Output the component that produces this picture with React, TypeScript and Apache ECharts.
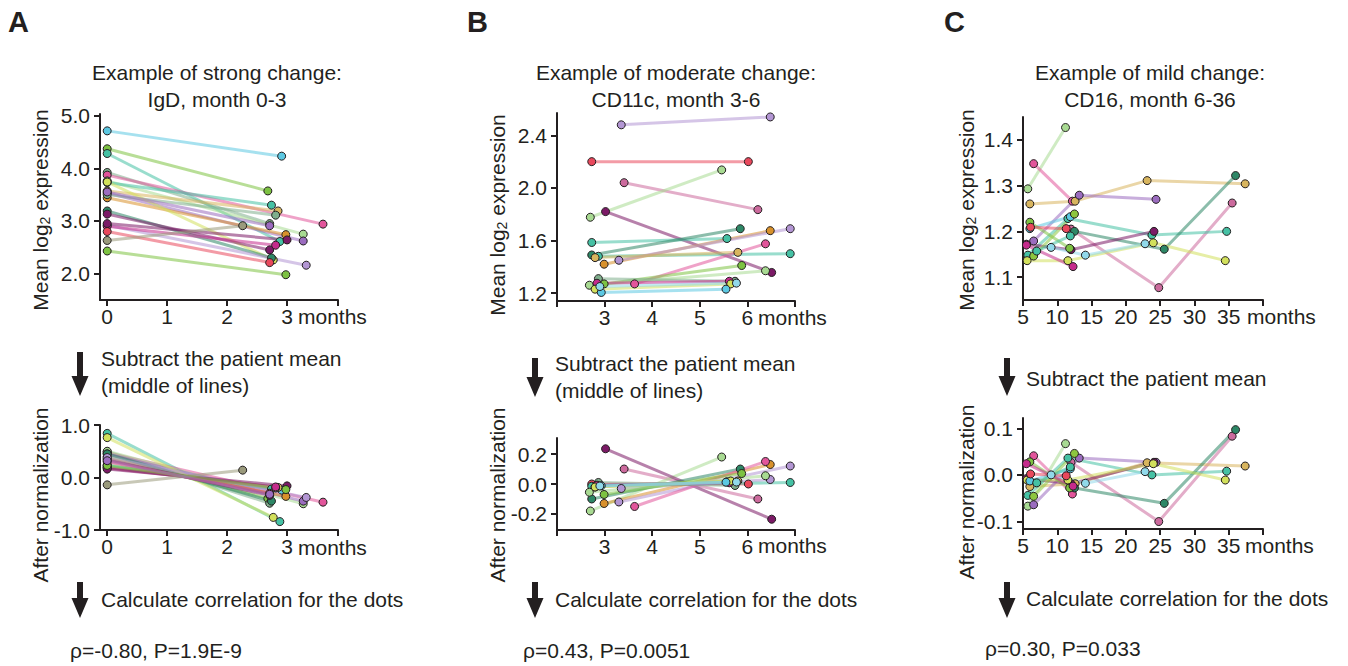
import React, { useEffect, useRef } from "react";
import * as echarts from "echarts";

// ---------- Panel A: IgD, month 0-3 ----------
const aMonthStart = [0, 0, 0, 0, 0, 0, 0, 0, 0, 0, 0, 0, 0, 0, 0, 0, 0, 0, 0, 0, 0];
const aMonthEnd = [2.91, 2.68, 2.88, 2.71, 3.6, 3.27, 2.74, 2.85, 3.27, 2.98, 2.81, 2.77, 2.74, 2.71, 3.32, 2.81, 3.0, 2.71, 2.26, 2.98, 2.71];
const aValueStart = [4.71, 4.37, 4.28, 3.92, 3.87, 3.76, 3.73, 3.57, 3.53, 3.44, 3.5, 3.74, 3.19, 3.13, 2.92, 2.9, 2.95, 2.8, 2.63, 2.43, 3.55];
const aValueEnd = [4.23, 3.57, 2.61, 2.95, 2.94, 2.75, 3.3, 3.19, 2.62, 2.74, 3.11, 2.26, 2.3, 2.45, 2.16, 2.54, 2.64, 2.21, 2.91, 1.98, 2.91];
const aNormStart = [0.24, 0.4, 0.84, 0.49, 0.47, 0.5, 0.22, 0.19, 0.45, 0.36, 0.2, 0.76, 0.45, 0.34, 0.38, 0.18, 0.16, 0.3, -0.14, 0.23, 0.32];
const aNormEnd = [-0.24, -0.4, -0.84, -0.49, -0.47, -0.5, -0.22, -0.19, -0.45, -0.36, -0.2, -0.76, -0.45, -0.34, -0.38, -0.18, -0.16, -0.3, 0.14, -0.23, -0.32];

// ---------- Panel B: CD11c, month 3-6 ----------
const bMonthStart = [3.35, 2.73, 3.41, 2.7, 3.02, 2.73, 2.73, 2.87, 2.99, 3.3, 2.8, 3.63, 2.99, 2.68, 2.87, 2.84, 2.8, 2.93, 2.9];
const bMonthEnd = [6.48, 6.02, 6.22, 5.46, 6.51, 5.57, 5.85, 6.9, 6.48, 6.9, 5.8, 6.38, 5.88, 6.38, 5.74, 5.62, 5.65, 5.55, 5.77];
const bValueStart = [2.48, 2.2, 2.04, 1.777, 1.82, 1.585, 1.49, 1.48, 1.42, 1.45, 1.47, 1.27, 1.27, 1.26, 1.31, 1.275, 1.23, 1.205, 1.25];
const bValueEnd = [2.54, 2.2, 1.835, 2.137, 1.357, 1.615, 1.69, 1.5, 1.675, 1.69, 1.51, 1.575, 1.41, 1.37, 1.29, 1.29, 1.27, 1.23, 1.276];
const bNormStart = [-0.03, 0.0, 0.1, -0.18, 0.235, -0.015, -0.1, -0.01, -0.13, -0.12, -0.02, -0.15, -0.07, -0.055, 0.01, -0.008, -0.02, -0.012, -0.013];
const bNormEnd = [0.03, 0.0, -0.1, 0.18, -0.235, 0.015, 0.1, 0.01, 0.13, 0.12, 0.02, 0.15, 0.07, 0.055, -0.01, 0.008, 0.02, 0.012, 0.013];

// ---------- Panel C: CD16, month 6-36 ----------
const cMonths = [
  [5.7, 11.2],
  [6.55, 12.2],
  [12.0, 24.8, 35.5],
  [6.0, 12.6, 23.1, 37.4],
  [6.55, 13.2, 24.4],
  [5.7, 11.55, 23.8, 34.7],
  [12.5, 25.6, 36.0],
  [5.5, 12.0, 24.1],
  [5.6, 11.55, 24.0, 34.5],
  [9.1, 14.1, 22.8],
  [6.0, 11.9],
  [6.0, 11.8],
  [6.55, 12.5],
  [5.5, 12.3],
  [6.1, 11.3],
  [7.0, 11.9],
];
const cValues = [
  [1.293, 1.427],
  [1.348, 1.266],
  [1.205, 1.077, 1.262],
  [1.26, 1.266, 1.311, 1.304],
  [1.179, 1.279, 1.27],
  [1.148, 1.228, 1.192, 1.2],
  [1.2, 1.161, 1.322],
  [1.172, 1.16, 1.2],
  [1.136, 1.136, 1.175, 1.136],
  [1.165, 1.148, 1.173],
  [1.206, 1.232],
  [1.22, 1.163],
  [1.146, 1.238],
  [1.17, 1.123],
  [1.209, 1.206],
  [1.157, 1.19],
];
const cNorm = [
  [-0.067, 0.067],
  [0.041, -0.041],
  [0.027, -0.1, 0.083],
  [-0.025, -0.019, 0.026, 0.019],
  [-0.064, 0.036, 0.027],
  [-0.044, 0.036, 0.0, 0.008],
  [-0.028, -0.061, 0.097],
  [-0.008, -0.019, 0.027],
  [-0.011, -0.011, 0.024, -0.011],
  [0.0, -0.018, 0.007],
  [-0.013, 0.013],
  [0.028, -0.028],
  [-0.046, 0.046],
  [0.024, -0.024],
  [0.002, -0.002],
  [-0.017, 0.017],
];

// tick values
const aXTicks = [0, 1, 2, 3];
const aYTicks = [2, 3, 4, 5];
const aNormTicks = [-1, 0, 1];
const bXTicks = [3, 4, 5, 6];
const bYTicks = [1.2, 1.6, 2.0, 2.4];
const bNormTicks = [-0.2, 0, 0.2];
const cXTicks = [5, 10, 15, 20, 25, 30, 35];
const cYTicks = [1.1, 1.2, 1.3, 1.4];
const cNormTicks = [-0.1, 0, 0.1];

// ---------- styles ----------
const P = {
  cyan: "#5cc8e2",
  green: "#7dc242",
  teal: "#45c1a4",
  grayGreen: "#7fae8c",
  pink: "#e2559b",
  lightGreen: "#a8da92",
  tan: "#d8b55e",
  purple: "#9b6cbf",
  orange: "#d8912c",
  darkTeal: "#2d8766",
  darkPurple: "#7b1a66",
  red: "#e9485c",
  gray: "#9a9a7c",
  yellowGreen: "#d2e05c",
  lightPurple: "#b396d4",
  magenta: "#c52b8c",
  lightCyan: "#91d9ea",
  mauve: "#cc6a9d",
  lime: "#8dc63f",
};
const aColors = [P.cyan, P.green, P.teal, P.grayGreen, P.pink, P.lightGreen, P.teal, P.tan, P.purple, P.orange, P.grayGreen, P.yellowGreen, P.darkTeal, P.darkPurple, P.lightPurple, P.magenta, P.darkPurple, P.red, P.gray, P.green, P.purple];
const bColors = [P.lightPurple, P.red, P.mauve, P.lightGreen, P.darkPurple, P.teal, P.darkTeal, P.teal, P.orange, P.lightPurple, P.tan, P.pink, P.green, P.lightGreen, P.grayGreen, P.magenta, P.yellowGreen, P.cyan, P.lightCyan];
const cColors = [P.lightGreen, P.pink, P.mauve, P.tan, P.purple, P.teal, P.darkTeal, P.darkPurple, P.yellowGreen, P.lightCyan, P.cyan, P.green, P.lime, P.magenta, P.red, P.teal];

const FONT = '"Liberation Sans", Arial, Helvetica, sans-serif';
const INK = "#231f20";

function patientSeries(xs: number[][], ys: number[][], colors: string[], g: number) {
  const out: any[] = [];
  xs.forEach((row, i) => {
    const data = row.map((x, j) => [x, ys[i][j]]);
    out.push({
      type: "line",
      xAxisIndex: g,
      yAxisIndex: g,
      data,
      symbol: "none",
      silent: true,
      z: 2,
      lineStyle: { color: colors[i], width: 3, opacity: 0.55 },
    });
  });
  xs.forEach((row, i) => {
    const data = row.map((x, j) => [x, ys[i][j]]);
    out.push({
      type: "scatter",
      xAxisIndex: g,
      yAxisIndex: g,
      data,
      symbolSize: 8,
      silent: true,
      z: 3,
      itemStyle: { color: colors[i], borderColor: INK, borderWidth: 1, opacity: 1 },
    });
  });
  return out;
}

function pairs(a: number[], b: number[]) {
  return a.map((v, i) => [v, b[i]]);
}

function xAxisCfg(g: number, min: number, max: number, ticks: number[], labels: number[]) {
  return {
    type: "value",
    gridIndex: g,
    min,
    max,
    axisLine: { show: true, onZero: false, lineStyle: { color: INK, width: 2 } },
    axisTick: { show: true, length: 6, lineStyle: { color: INK, width: 2 }, customValues: ticks },
    axisLabel: {
      show: true,
      customValues: labels,
      color: INK,
      fontSize: 21,
      fontFamily: FONT,
      margin: 6,
      formatter: (v: number) => String(v),
    },
    splitLine: { show: false },
  };
}

function yAxisCfg(g: number, min: number, max: number, ticks: number[]) {
  return {
    type: "value",
    gridIndex: g,
    min,
    max,
    axisLine: { show: true, onZero: false, lineStyle: { color: INK, width: 2 } },
    axisTick: { show: true, length: 6, lineStyle: { color: INK, width: 2 }, customValues: ticks },
    axisLabel: {
      show: true,
      customValues: ticks,
      color: INK,
      fontSize: 21,
      fontFamily: FONT,
      margin: 10,
      formatter: (v: number) => v.toFixed(1),
    },
    splitLine: { show: false },
  };
}

function txt(x: number, y: number, text: string, extra: any = {}, rot = 0) {
  return {
    type: "text",
    x,
    y,
    rotation: rot,
    silent: true,
    style: {
      text,
      fill: INK,
      fontSize: 21,
      fontFamily: FONT,
      align: "left",
      verticalAlign: "middle",
      ...extra,
    },
  };
}

function arrow(cx: number, top: number, bottom: number) {
  const ht = bottom - 20;
  return {
    type: "polygon",
    silent: true,
    shape: {
      points: [
        [cx - 3, top],
        [cx + 3, top],
        [cx + 3, ht],
        [cx + 8.5, ht],
        [cx, bottom],
        [cx - 8.5, ht],
        [cx - 3, ht],
      ],
    },
    style: { fill: INK },
  };
}

const logRich = { s: { fontSize: 14, fontFamily: FONT, fill: INK, padding: [10, 0, 0, 0] } };

export default function App() {
  const ref = useRef<HTMLDivElement>(null);
  useEffect(() => {
    document.body.style.margin = "0";
    if (!ref.current) return;
    const chart = echarts.init(ref.current, undefined, { renderer: "svg" });

    const aXs = pairs(aMonthStart, aMonthEnd);
    const bXs = pairs(bMonthStart, bMonthEnd);

    const series = [
      ...patientSeries(aXs, pairs(aValueStart, aValueEnd), aColors, 0),
      ...patientSeries(aXs, pairs(aNormStart, aNormEnd), aColors, 1),
      ...patientSeries(bXs, pairs(bValueStart, bValueEnd), bColors, 2),
      ...patientSeries(bXs, pairs(bNormStart, bNormEnd), bColors, 3),
      ...patientSeries(cMonths, cValues, cColors, 4),
      ...patientSeries(cMonths, cNorm, cColors, 5),
    ];

    const titleStyle = { align: "center", verticalAlign: "middle", lineHeight: 27 };
    const letter = { fontSize: 29, fontWeight: "bold", verticalAlign: "middle" };
    const ylab = { align: "center", verticalAlign: "middle", rich: logRich };
    const R = Math.PI / 2;

    const graphic = [
      txt(8, 22, "A", letter),
      txt(467, 22, "B", letter),
      txt(944, 22, "C", letter),
      txt(217, 86, "Example of strong change:\nIgD, month 0-3", titleStyle),
      txt(676, 86, "Example of moderate change:\nCD11c, month 3-6", titleStyle),
      txt(1150, 86, "Example of mild change:\nCD16, month 6-36", titleStyle),
      txt(40, 210, "Mean log{s|2} expression", ylab, R),
      txt(497, 215, "Mean log{s|2} expression", ylab, R),
      txt(966, 210, "Mean log{s|2} expression", ylab, R),
      txt(40, 495, "After normalization", ylab, R),
      txt(497, 495, "After normalization", ylab, R),
      txt(966, 492, "After normalization", ylab, R),
      txt(298, 316, "months"),
      txt(758, 317, "months"),
      txt(1247, 316, "months"),
      txt(298, 547, "months"),
      txt(758, 545, "months"),
      txt(1245, 545, "months"),
      arrow(80, 352, 396),
      arrow(535, 358, 397),
      arrow(1007, 358, 396),
      arrow(80, 582, 618),
      arrow(535, 582, 618),
      arrow(1007, 582, 618),
      txt(101, 358, "Subtract the patient mean"),
      txt(101, 385, "(middle of lines)"),
      txt(555, 363, "Subtract the patient mean"),
      txt(555, 390, "(middle of lines)"),
      txt(1026, 378, "Subtract the patient mean"),
      txt(101, 599, "Calculate correlation for the dots"),
      txt(555, 599, "Calculate correlation for the dots"),
      txt(1026, 598, "Calculate correlation for the dots"),
      txt(70, 650, "ρ=-0.80, P=1.9E-9"),
      txt(523, 650, "ρ=0.43, P=0.0051"),
      txt(985, 648, "ρ=0.30, P=0.033"),
    ];

    chart.setOption({
      animation: false,
      backgroundColor: "#ffffff",
      textStyle: { fontFamily: FONT },
      grid: [
        { left: 100, top: 114, width: 238, height: 186 },
        { left: 100, top: 425, width: 238, height: 105 },
        { left: 557, top: 113, width: 238, height: 188 },
        { left: 557, top: 438, width: 238, height: 92 },
        { left: 1023, top: 117, width: 240, height: 183 },
        { left: 1023, top: 418, width: 240, height: 111 },
      ],
      xAxis: [
        xAxisCfg(0, -0.12, 3.85, [...aXTicks, 3.85], aXTicks),
        xAxisCfg(1, -0.12, 3.85, [...aXTicks, 3.85], aXTicks),
        xAxisCfg(2, 2, 7, [2, ...bXTicks, 7], bXTicks),
        xAxisCfg(3, 2, 7, [2, ...bXTicks, 7], bXTicks),
        xAxisCfg(4, 5, 40, [...cXTicks, 40], cXTicks),
        xAxisCfg(5, 5, 40, [...cXTicks, 40], cXTicks),
      ],
      yAxis: [
        yAxisCfg(0, 1.5, 5.03, aYTicks),
        yAxisCfg(1, -1.0, 1.0, aNormTicks),
        yAxisCfg(2, 1.14, 2.57, bYTicks),
        yAxisCfg(3, -0.307, 0.307, bNormTicks),
        yAxisCfg(4, 1.05, 1.45, cYTicks),
        yAxisCfg(5, -0.116, 0.122, cNormTicks),
      ],
      series,
      graphic,
    });
    return () => chart.dispose();
  }, []);
  return <div ref={ref} style={{ width: 1348, height: 666 }} />;
}
